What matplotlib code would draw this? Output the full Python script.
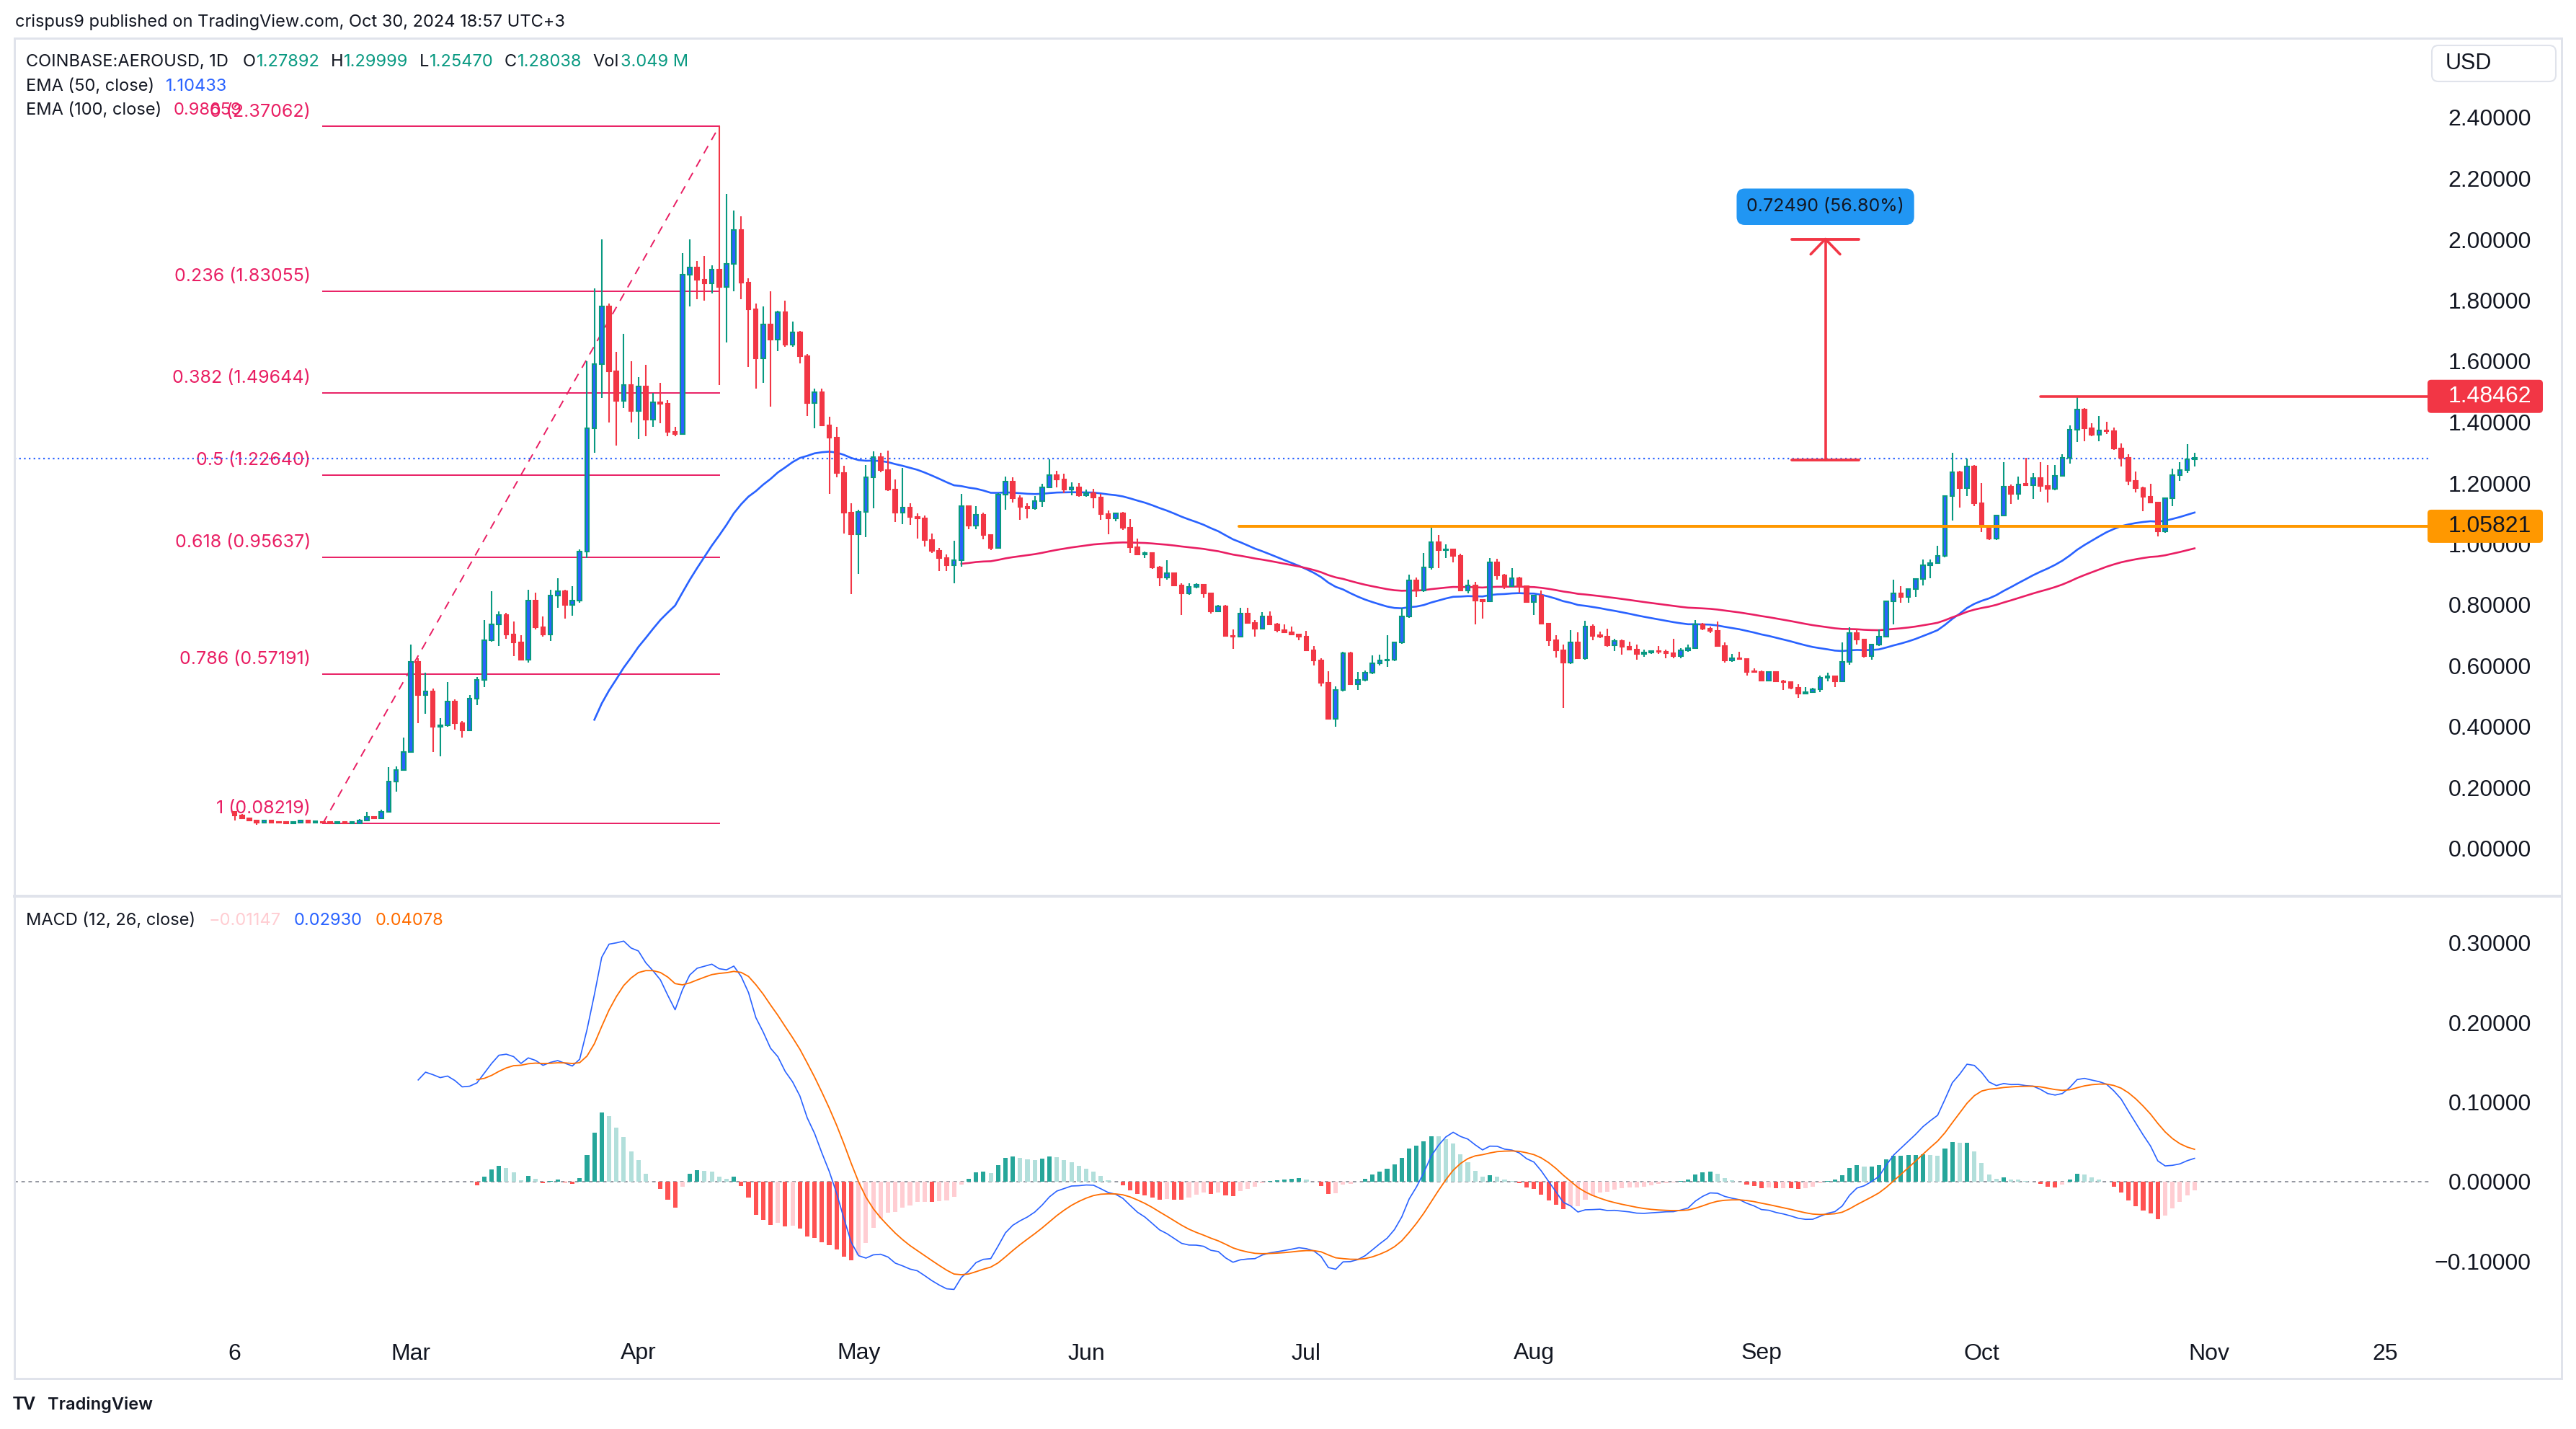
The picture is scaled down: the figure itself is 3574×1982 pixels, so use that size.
import numpy as np
import pandas as pd
import matplotlib
matplotlib.use("Agg")
import matplotlib.pyplot as plt
from matplotlib.patches import FancyBboxPatch
from matplotlib.lines import Line2D
from matplotlib.transforms import IdentityTransform
from matplotlib.ticker import FuncFormatter

W, H = 3574, 1982
plt.rcParams["font.family"] = ["Liberation Sans", "DejaVu Sans"]

# daily candles COINBASE:AEROUSD 1D, 6 Feb -> 30 Oct 2024 (open = previous close)
first_date = "2024-02-06"
first_open = 0.120
closes = [
    0.110, 0.100, 0.092, 0.086, 0.093, 0.086, 0.085, 0.084, 0.085, 0.093,
    0.086, 0.087, 0.085, 0.084, 0.085, 0.084, 0.084, 0.092, 0.103, 0.100,
    0.120, 0.220, 0.258, 0.318, 0.613, 0.503, 0.516, 0.401, 0.404, 0.484,
    0.413, 0.387, 0.492, 0.553, 0.684, 0.735, 0.767, 0.704, 0.676, 0.621,
    0.814, 0.727, 0.704, 0.830, 0.845, 0.801, 0.814, 0.974, 1.379, 1.590,
    1.781, 1.568, 1.469, 1.523, 1.436, 1.516, 1.409, 1.466, 1.461, 1.367,
    1.362, 1.885, 1.908, 1.867, 1.855, 1.900, 1.843, 1.919, 2.030, 1.859,
    1.771, 1.609, 1.720, 1.670, 1.760, 1.655, 1.694, 1.616, 1.462, 1.499,
    1.390, 1.348, 1.233, 1.102, 1.032, 1.106, 1.218, 1.286, 1.242, 1.178,
    1.102, 1.120, 1.089, 1.085, 1.014, 0.977, 0.953, 0.930, 0.947, 1.124,
    1.061, 1.097, 1.030, 0.987, 1.162, 1.204, 1.151, 1.121, 1.118, 1.142,
    1.186, 1.225, 1.212, 1.179, 1.186, 1.159, 1.166, 1.153, 1.099, 1.083,
    1.100, 1.054, 0.990, 0.966, 0.970, 0.922, 0.891, 0.903, 0.864, 0.837,
    0.859, 0.867, 0.839, 0.778, 0.796, 0.699, 0.695, 0.772, 0.742, 0.723,
    0.762, 0.737, 0.717, 0.709, 0.703, 0.697, 0.652, 0.618, 0.544, 0.425,
    0.520, 0.641, 0.540, 0.553, 0.577, 0.608, 0.618, 0.620, 0.677, 0.762,
    0.880, 0.847, 0.922, 1.007, 0.979, 0.983, 0.962, 0.847, 0.865, 0.815,
    0.813, 0.940, 0.898, 0.861, 0.887, 0.861, 0.809, 0.831, 0.738, 0.683,
    0.650, 0.610, 0.678, 0.624, 0.728, 0.699, 0.697, 0.667, 0.681, 0.662,
    0.653, 0.638, 0.644, 0.649, 0.646, 0.642, 0.632, 0.650, 0.658, 0.737,
    0.723, 0.715, 0.666, 0.618, 0.626, 0.622, 0.581, 0.579, 0.551, 0.579,
    0.548, 0.546, 0.528, 0.510, 0.514, 0.523, 0.562, 0.565, 0.549, 0.612,
    0.707, 0.686, 0.632, 0.669, 0.697, 0.812, 0.837, 0.825, 0.853, 0.886,
    0.929, 0.938, 0.962, 1.157, 1.236, 1.184, 1.255, 1.134, 1.058, 1.017,
    1.094, 1.188, 1.164, 1.196, 1.194, 1.216, 1.191, 1.180, 1.224, 1.283,
    1.374, 1.441, 1.381, 1.358, 1.372, 1.370, 1.314, 1.283, 1.206, 1.183,
    1.154, 1.135, 1.042, 1.151, 1.225, 1.243, 1.279, 1.28038,
]
highs = [
    0.122, 0.114, 0.100, 0.092, 0.095, 0.094, 0.087, 0.086, 0.086, 0.095,
    0.094, 0.088, 0.087, 0.086, 0.086, 0.086, 0.085, 0.097, 0.120, 0.104,
    0.127, 0.267, 0.271, 0.365, 0.670, 0.625, 0.578, 0.525, 0.429, 0.547,
    0.490, 0.420, 0.503, 0.563, 0.751, 0.845, 0.779, 0.775, 0.746, 0.700,
    0.850, 0.840, 0.762, 0.850, 0.888, 0.850, 0.861, 0.983, 1.600, 1.838,
    2.000, 1.790, 1.630, 1.690, 1.600, 1.548, 1.589, 1.496, 1.529, 1.472,
    1.385, 1.955, 2.000, 1.928, 1.946, 1.915, 2.37062, 2.150, 2.095, 2.076,
    1.872, 1.789, 1.781, 1.829, 1.766, 1.800, 1.731, 1.700, 1.624, 1.510,
    1.510, 1.417, 1.385, 1.256, 1.133, 1.113, 1.260, 1.305, 1.299, 1.307,
    1.212, 1.249, 1.133, 1.100, 1.093, 1.034, 0.988, 0.966, 1.011, 1.165,
    1.124, 1.124, 1.103, 1.033, 1.168, 1.221, 1.220, 1.159, 1.133, 1.157,
    1.198, 1.279, 1.240, 1.230, 1.202, 1.200, 1.178, 1.180, 1.164, 1.109,
    1.102, 1.105, 1.082, 1.017, 0.976, 0.972, 0.928, 0.946, 0.905, 0.872,
    0.870, 0.872, 0.868, 0.840, 0.800, 0.800, 0.719, 0.790, 0.790, 0.750,
    0.776, 0.778, 0.740, 0.735, 0.728, 0.705, 0.715, 0.664, 0.624, 0.583,
    0.533, 0.645, 0.645, 0.580, 0.585, 0.634, 0.636, 0.701, 0.680, 0.790,
    0.899, 0.890, 0.970, 1.058, 1.030, 0.999, 0.985, 0.967, 0.884, 0.875,
    0.818, 0.955, 0.951, 0.902, 0.920, 0.892, 0.862, 0.834, 0.847, 0.742,
    0.701, 0.669, 0.717, 0.709, 0.748, 0.736, 0.712, 0.722, 0.689, 0.686,
    0.679, 0.670, 0.653, 0.652, 0.665, 0.653, 0.689, 0.657, 0.669, 0.750,
    0.740, 0.728, 0.745, 0.677, 0.640, 0.646, 0.623, 0.592, 0.585, 0.580,
    0.583, 0.553, 0.548, 0.539, 0.531, 0.528, 0.569, 0.577, 0.567, 0.678,
    0.727, 0.723, 0.688, 0.671, 0.720, 0.815, 0.883, 0.862, 0.855, 0.888,
    0.949, 0.949, 0.993, 1.160, 1.300, 1.240, 1.281, 1.258, 1.200, 1.060,
    1.096, 1.269, 1.196, 1.221, 1.284, 1.232, 1.269, 1.260, 1.258, 1.295,
    1.389, 1.48462, 1.446, 1.396, 1.419, 1.401, 1.383, 1.330, 1.295, 1.237,
    1.188, 1.198, 1.137, 1.153, 1.247, 1.269, 1.328, 1.29999,
]
lows = [
    0.093, 0.098, 0.090, 0.077, 0.084, 0.085, 0.084, 0.083, 0.083, 0.084,
    0.085, 0.085, 0.08219, 0.083, 0.083, 0.083, 0.083, 0.083, 0.091, 0.098,
    0.096, 0.118, 0.186, 0.255, 0.315, 0.413, 0.442, 0.316, 0.304, 0.400,
    0.390, 0.365, 0.385, 0.472, 0.531, 0.680, 0.665, 0.688, 0.633, 0.618,
    0.610, 0.720, 0.695, 0.682, 0.790, 0.754, 0.764, 0.806, 0.955, 1.300,
    1.480, 1.398, 1.324, 1.446, 1.398, 1.344, 1.353, 1.385, 1.396, 1.353,
    1.353, 1.360, 1.781, 1.803, 1.799, 1.822, 1.523, 1.661, 1.829, 1.803,
    1.582, 1.510, 1.530, 1.450, 1.632, 1.648, 1.648, 1.593, 1.421, 1.381,
    1.387, 1.165, 1.219, 1.034, 0.835, 0.902, 1.022, 1.116, 1.235, 1.175,
    1.072, 1.065, 1.063, 1.018, 0.991, 0.970, 0.912, 0.912, 0.871, 0.926,
    1.048, 1.048, 1.016, 0.980, 0.985, 1.113, 1.135, 1.080, 1.083, 1.112,
    1.123, 1.183, 1.186, 1.166, 1.160, 1.155, 1.154, 1.117, 1.080, 1.033,
    1.074, 1.045, 0.971, 0.963, 0.954, 0.918, 0.861, 0.883, 0.862, 0.766,
    0.832, 0.854, 0.824, 0.772, 0.776, 0.699, 0.656, 0.693, 0.740, 0.695,
    0.720, 0.735, 0.711, 0.707, 0.700, 0.683, 0.648, 0.602, 0.532, 0.423,
    0.401, 0.515, 0.537, 0.521, 0.549, 0.573, 0.602, 0.596, 0.616, 0.673,
    0.758, 0.827, 0.843, 0.917, 0.920, 0.955, 0.940, 0.845, 0.837, 0.737,
    0.756, 0.813, 0.882, 0.853, 0.858, 0.841, 0.807, 0.766, 0.736, 0.665,
    0.628, 0.462, 0.606, 0.622, 0.620, 0.685, 0.690, 0.663, 0.649, 0.637,
    0.651, 0.620, 0.630, 0.638, 0.640, 0.624, 0.626, 0.624, 0.646, 0.655,
    0.716, 0.708, 0.663, 0.611, 0.612, 0.619, 0.567, 0.577, 0.549, 0.549,
    0.546, 0.521, 0.523, 0.494, 0.508, 0.511, 0.514, 0.549, 0.529, 0.547,
    0.604, 0.671, 0.628, 0.619, 0.665, 0.695, 0.736, 0.806, 0.807, 0.825,
    0.865, 0.888, 0.935, 0.957, 1.078, 1.119, 1.157, 1.125, 1.038, 1.014,
    1.014, 1.090, 1.131, 1.145, 1.190, 1.149, 1.172, 1.137, 1.176, 1.221,
    1.265, 1.336, 1.338, 1.355, 1.338, 1.362, 1.309, 1.255, 1.192, 1.170,
    1.107, 1.133, 1.024, 1.037, 1.124, 1.206, 1.232, 1.2547,
]

# drawings on the chart
fib_ratios = ["0", "0.236", "0.382", "0.5", "0.618", "0.786", "1"]
fib_prices = [2.37062, 1.83055, 1.49644, 1.22640, 0.95637, 0.57191, 0.08219]
fib_from, fib_to = "2024-02-18", "2024-04-12"
resistance, resistance_from = 1.48462, "2024-10-09"
support, support_from = 1.05821, "2024-06-21 19:00"
last_price = 1.28038
measure_date = "2024-09-09 17:00"
measure_lo, measure_hi = 1.27620, 2.00110
measure_text = "0.72490 (56.80%)"

price_ticks = [0.0, 0.2, 0.4, 0.6, 0.8, 1.0, 1.2, 1.4, 1.6, 1.8, 2.0, 2.2, 2.4]
macd_ticks = [-0.1, 0.0, 0.1, 0.2, 0.3]
time_ticks = ["2024-02-06", "2024-03-01", "2024-04-01", "2024-05-01", "2024-06-01", "2024-07-01",
              "2024-08-01", "2024-09-01", "2024-10-01", "2024-11-01", "2024-11-25"]
time_labels = ["6", "Mar", "Apr", "May", "Jun", "Jul", "Aug", "Sep", "Oct", "Nov", "25"]

UP_BODY, UP_EDGE, DOWN = "#2962FF", "#089981", "#F23645"
FIB = "#E91E63"
DARK = "#131722"
FRAME = "#E0E3EB"


def day(s):
    return (pd.to_datetime(s) - pd.Timestamp("2024-02-01")) / pd.Timedelta(days=1)


def ema(src, n):
    src = np.asarray(src, float)
    out = np.full(src.shape, np.nan)
    s = np.flatnonzero(~np.isnan(src))[0]
    if len(src) - s < n:
        return out
    out[s + n - 1] = src[s:s + n].mean()
    a = 2.0 / (n + 1)
    for i in range(s + n, len(src)):
        out[i] = a * src[i] + (1 - a) * out[i - 1]
    return out


c = np.array(closes)
hi = np.array(highs)
lo = np.array(lows)
o = np.r_[first_open, c[:-1]]
x = np.asarray(day(pd.date_range(first_date, periods=len(c), freq="D")))

ema50 = ema(c, 50)
ema100 = ema(c, 100)
macd = ema(c, 12) - ema(c, 26)
signal = ema(macd, 9)
hist = macd - signal

# pixel layout of the screenshot
X0_PX, PX_DAY = 274.7, 10.184
PLOT_L, PLOT_R = 20, 3370
P_TOP, P_BOT = 53, 1241
M_TOP, M_BOT = 1245, 1850
xlim = ((PLOT_L - X0_PX) / PX_DAY, (PLOT_R - X0_PX) / PX_DAY)

fig = plt.figure(figsize=(W / 100, H / 100), dpi=100)
fig.patch.set_facecolor("white")


def axes_px(top, bot):
    return fig.add_axes([PLOT_L / W, 1 - bot / H, (PLOT_R - PLOT_L) / W, (bot - top) / H])


ax = axes_px(P_TOP, P_BOT)
axm = axes_px(M_TOP, M_BOT)

fmt = FuncFormatter(lambda v, p: f"{v:.5f}".replace("-", "\u2212"))
for a in (ax, axm):
    a.set_xlim(*xlim)
    for s in a.spines.values():
        s.set_visible(False)
    a.yaxis.tick_right()
    a.yaxis.set_major_formatter(fmt)
    a.tick_params(axis="y", length=0, pad=102, labelsize=23, labelcolor=DARK)
    a.tick_params(axis="x", length=0)

ax.set_ylim((1177 - P_BOT) / 422.5, (1177 - P_TOP) / 422.5)
ax.set_yticks(price_ticks)
ax.set_xticks([])
axm.set_ylim((1639 - M_BOT) / 1105, (1639 - M_TOP) / 1105)
axm.set_yticks(macd_ticks)
axm.set_xticks(day(time_ticks))
axm.set_xticklabels(time_labels)
axm.tick_params(axis="x", pad=9, labelsize=23, labelcolor=DARK)
for a in (ax, axm):
    for t in a.get_yticklabels():
        t.set_horizontalalignment("right")

# ---- price pane ----
up = c >= o
bottom = np.minimum(o, c)
height = np.maximum(np.abs(c - o), 0.003)
ax.vlines(x[up], lo[up], hi[up], color=UP_EDGE, lw=1.5, zorder=3)
ax.vlines(x[~up], lo[~up], hi[~up], color=DOWN, lw=1.5, zorder=3)
ax.bar(x[up], height[up], bottom=bottom[up], width=0.55, color=UP_BODY, edgecolor=UP_EDGE, lw=1.5, zorder=4)
ax.bar(x[~up], height[~up], bottom=bottom[~up], width=0.55, color=DOWN, edgecolor=DOWN, lw=1.5, zorder=4)

ax.plot(x, ema50, color="#2962FF", lw=1.9, zorder=2)
ax.plot(x, ema100, color=FIB, lw=1.9, zorder=2)
ax.axhline(last_price, color="#2962FF", lw=1.6, ls=(0, (1, 2)), zorder=1.5)

f0, f1 = day(fib_from), day(fib_to)
for r, p in zip(fib_ratios, fib_prices):
    ax.plot([f0, f1], [p, p], color=FIB, lw=1.4, zorder=1)
    ax.annotate(f"{r} ({p:.5f})", (f0, p), xytext=(-12, 10), textcoords="offset points",
                ha="right", va="baseline", color=FIB, fontsize=18, family="Inter", zorder=1)
ax.plot([f0, f1], [fib_prices[-1], fib_prices[0]], color=FIB, lw=1.4, ls=(0, (6, 5)), zorder=1)

ax.plot([day(resistance_from), xlim[1]], [resistance, resistance], color=DOWN, lw=2.6,
        solid_capstyle="round", zorder=5)
ax.plot([day(support_from), xlim[1]], [support, support], color="#FF9800", lw=2.9,
        solid_capstyle="round", zorder=5)

xm = day(measure_date)
ax.plot([xm, xm], [measure_lo, measure_hi], color=DOWN, lw=2.6, zorder=6)
for yv in (measure_lo, measure_hi):
    ax.plot([xm - 4.6, xm + 4.6], [yv, yv], color=DOWN, lw=2.8, solid_capstyle="round", zorder=6)
ax.plot([xm - 2.0, xm, xm + 2.0], [measure_hi - 0.05, measure_hi, measure_hi - 0.05], color=DOWN,
        lw=2.6, solid_capstyle="round", zorder=6)
ax.text(xm, measure_hi + 0.106, measure_text, ha="center", va="center", fontsize=18, family="Inter",
        color=DARK, zorder=7,
        bbox=dict(boxstyle="round,pad=0.55,rounding_size=0.45", fc="#2196F3", ec="none"))

# ---- MACD pane ----
ok = ~np.isnan(hist)
prev = np.r_[np.nan, hist[:-1]]
cols = np.where(hist >= 0, np.where(prev < hist, "#26A69A", "#B2DFDB"),
                np.where(prev < hist, "#FFCDD2", "#FF5252"))
axm.bar(x[ok], hist[ok], width=0.6, color=cols[ok], zorder=2)
axm.axhline(0, color="#9598A1", lw=1.4, ls=(0, (2.5, 2.5)), zorder=1)
axm.plot(x, macd, color="#2962FF", lw=1.2, zorder=3)
axm.plot(x, signal, color="#FF6D00", lw=1.3, zorder=3)

# ---- frame, axis tags, texts ----
ID = IdentityTransform()


def line_px(xs, ys, lw_px, color):
    fig.add_artist(Line2D(xs, [H - v for v in ys], transform=ID, lw=lw_px / 1.389, color=color, zorder=1))


line_px([20, 3554], [53, 53], 3, FRAME)
line_px([20, 3554], [1912, 1912], 3, FRAME)
line_px([20, 20], [53, 1912], 3, FRAME)
line_px([3554, 3554], [53, 1912], 3, FRAME)
line_px([20, 3554], [1243, 1243], 4, FRAME)


def axis_tag(price, fc, tc):
    y = ax.transData.transform((0, price))[1]
    fig.add_artist(FancyBboxPatch((3368, y - 23), 160, 46, boxstyle="round,pad=0,rounding_size=5",
                                  transform=ID, fc=fc, ec="none", zorder=5))
    fig.text(3512 / W, y / H, f"{price:.5f}", ha="right", va="center", color=tc, fontsize=23, zorder=6)


axis_tag(resistance, DOWN, "white")
axis_tag(support, "#FF9800", DARK)

fig.add_artist(FancyBboxPatch((3374, H - 113), 172, 50, boxstyle="round,pad=0,rounding_size=9",
                              transform=ID, fc="white", ec=FRAME, lw=1.5, zorder=5))
fig.text(3393 / W, 1 - 88 / H, "USD", ha="left", va="center", color=DARK, fontsize=22, zorder=6)

renderer = fig.canvas.get_renderer()


def text_row(x_px, y_px, parts, size=17):
    for txt, col, gap in parts:
        t = fig.text(x_px / W, 1 - y_px / H, txt, color=col, fontsize=size, family="Inter",
                     ha="left", va="center", zorder=6)
        x_px += t.get_window_extent(renderer).width + gap


GREEN = "#089981"
text_row(21, 31, [("crispus9 published on TradingView.com, Oct 30, 2024 18:57 UTC+3", DARK, 0)])
text_row(36, 86, [("COINBASE:AEROUSD, 1D", DARK, 20), ("O", DARK, 1), ("1.27892", GREEN, 15),
                  ("H", DARK, 1), ("1.29999", GREEN, 15), ("L", DARK, 1), ("1.25470", GREEN, 15),
                  ("C", DARK, 1), ("1.28038", GREEN, 15), ("Vol", DARK, 2), ("3.049 M", GREEN, 0)])
text_row(36, 120, [("EMA (50, close)", DARK, 16), ("1.10433", "#2962FF", 0)])
text_row(36, 153, [("EMA (100, close)", DARK, 16), ("0.98659", FIB, 0)])
text_row(36, 1277, [("MACD (12, 26, close)", DARK, 18), ("\u22120.01147", "#FFCDD2", 18),
                    ("0.02930", "#2962FF", 18), ("0.04078", "#FF6D00", 0)])

fig.text(18 / W, 1 - 1948 / H, "TV", fontsize=18, fontweight="heavy", color=DARK, va="center", ha="left")
fig.text(66 / W, 1 - 1948 / H, "TradingView", fontsize=17, fontweight="semibold", family="Inter",
         color=DARK, va="center", ha="left")

fig.savefig("out.png", dpi=100, facecolor="white")
